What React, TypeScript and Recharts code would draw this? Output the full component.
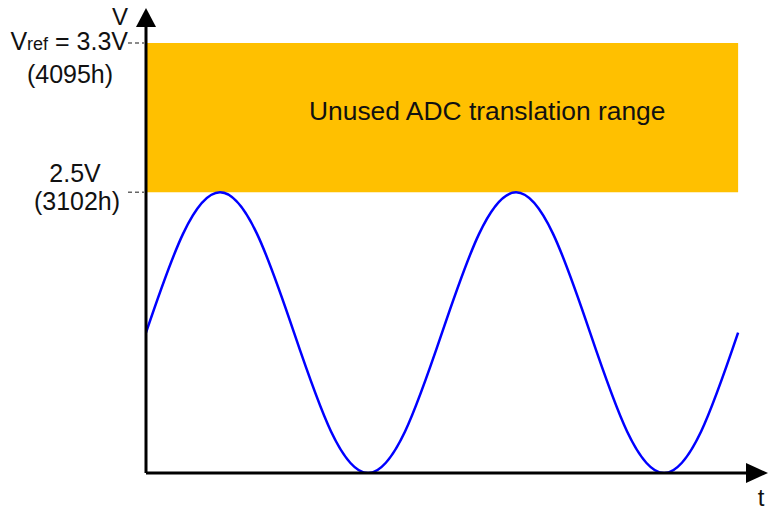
import React from 'react';
import { ComposedChart, Line, XAxis, YAxis, ReferenceArea, ReferenceDot } from 'recharts';

// t in quarter periods of the input sine, v in plot units (the diagram is not to scale above 2.5V)
const time = [0, 0.5, 1, 1.5, 2, 2.5, 3, 3.5, 4, 4.5, 5, 5.5, 6, 6.5, 7, 7.5, 8];
const signal = [1.25, 2.13, 2.5, 2.13, 1.25, 0.37, 0, 0.37, 1.25, 2.13, 2.5, 2.13, 1.25, 0.37, 0, 0.37, 1.25];

const levelTicks = [2.5, 3.83];
const levelVolts = ['2.5V', '3.3V'];
const levelCodes = ['(3102h)', '(4095h)'];

const bandLabel = 'Unused ADC translation range';
const bandEnd = 8;
const tMax = 8.12;
const vMax = 3.99;

const data = time.map((t, i) => ({ t, v: signal[i] }));

const FONT = '"Liberation Sans", Arial, sans-serif';
const TEXT = '#111';

const LevelTick = (props: any) => {
  const { x, y, payload } = props;
  const idx = levelTicks.indexOf(payload.value);
  const isRef = idx === levelTicks.length - 1;
  return (
    <g fontFamily={FONT} fontSize={25} fill={TEXT}>
      <line x1={x - 18} x2={x - 2} y1={y} y2={y} stroke="#666" strokeWidth={1.5} strokeDasharray="4 3" />
      {isRef ? (
        <>
          <text x={x - 18} y={y + 7} textAnchor="end">
            V<tspan fontSize={18}>ref</tspan>{' = ' + levelVolts[idx]}
          </text>
          <text x={x - 76} y={y + 40} textAnchor="middle">{levelCodes[idx]}</text>
        </>
      ) : (
        <>
          <text x={x - 71} y={y - 10} textAnchor="middle">{levelVolts[idx]}</text>
          <text x={x - 69} y={y + 18} textAnchor="middle">{levelCodes[idx]}</text>
        </>
      )}
    </g>
  );
};

const UpArrow = (props: any) => {
  const { cx, cy } = props;
  return (
    <g>
      <polygon points={`${cx},${cy - 17} ${cx - 10},${cy + 2} ${cx + 10},${cy + 2}`} fill="#000" />
      <text x={cx - 18} y={cy} textAnchor="end" fontFamily={FONT} fontSize={24} fill={TEXT}>V</text>
    </g>
  );
};

const RightArrow = (props: any) => {
  const { cx, cy } = props;
  return (
    <g>
      <polygon points={`${cx + 21},${cy} ${cx - 1},${cy - 10} ${cx - 1},${cy + 10}`} fill="#000" />
      <text x={cx + 14} y={cy + 33} textAnchor="middle" fontFamily={FONT} fontSize={24} fill={TEXT}>t</text>
    </g>
  );
};

const BandText = (props: any) => {
  const vb = props.viewBox;
  return (
    <text x={vb.x + 163} y={vb.y + 77} fontFamily={FONT} fontSize={26.4} fill={TEXT}>
      {bandLabel}
    </text>
  );
};

export default function App() {
  return (
    <div style={{ position: 'absolute', left: 0, top: 0, background: '#fff' }}>
      <ComposedChart width={768} height={511} data={data} margin={{ top: 25, right: 21, bottom: 0, left: 0 }}>
        <XAxis
          dataKey="t"
          type="number"
          domain={[0, tMax]}
          allowDataOverflow
          ticks={[]}
          tick={false}
          tickLine={false}
          height={38}
          axisLine={{ stroke: '#000', strokeWidth: 3 }}
        />
        <YAxis
          type="number"
          domain={[0, vMax]}
          allowDataOverflow
          ticks={levelTicks}
          interval={0}
          width={146}
          tickLine={false}
          tickSize={0}
          tickMargin={0}
          tick={(p: any) => <LevelTick {...p} />}
          axisLine={{ stroke: '#000', strokeWidth: 3 }}
        />
        <ReferenceArea
          x1={0}
          x2={bandEnd}
          y1={levelTicks[0]}
          y2={levelTicks[1]}
          fill="#FFC000"
          fillOpacity={1}
          stroke="none"
          ifOverflow="visible"
          label={{ content: (p: any) => <BandText {...p} /> }}
        />
        <Line
          dataKey="v"
          type="natural"
          stroke="#0000FF"
          strokeWidth={2.5}
          dot={false}
          activeDot={false}
          isAnimationActive={false}
        />
        <ReferenceDot x={0} y={vMax} r={0} ifOverflow="visible" shape={(p: any) => <UpArrow {...p} />} />
        <ReferenceDot x={tMax} y={0} r={0} ifOverflow="visible" shape={(p: any) => <RightArrow {...p} />} />
      </ComposedChart>
    </div>
  );
}
